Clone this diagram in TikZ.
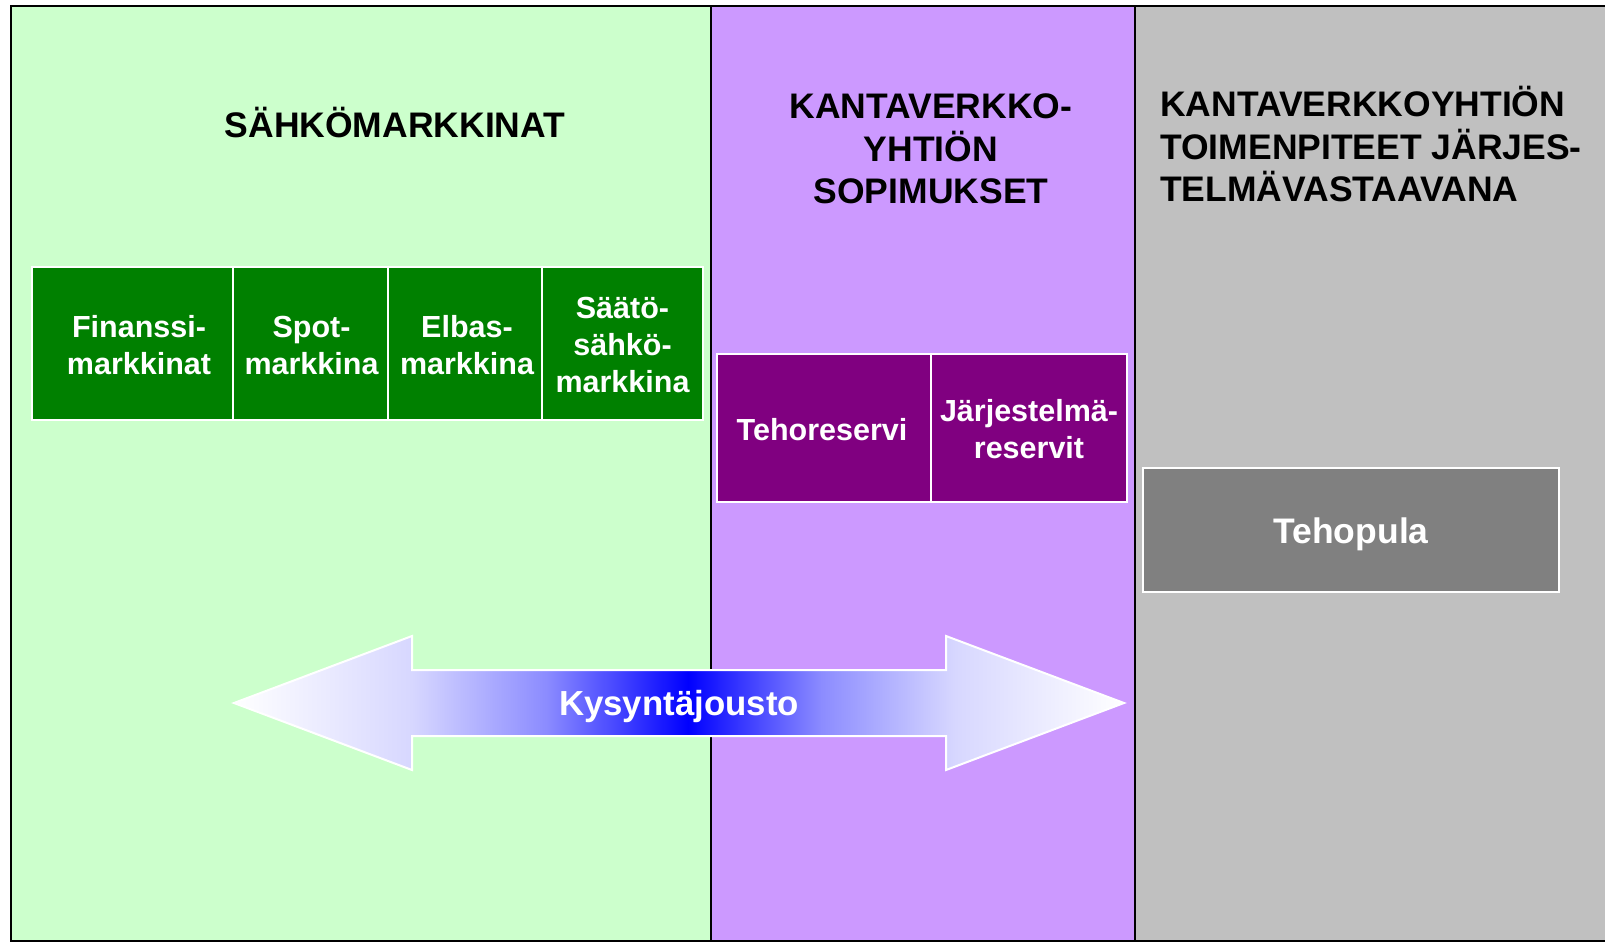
\documentclass[tikz,border=0pt]{standalone}
\usepackage{fontspec}
\setmainfont{Liberation Sans}
\definecolor{lgreen}{HTML}{CCFFCC}
\definecolor{lpurple}{HTML}{CC99FF}
\definecolor{lgray}{HTML}{C0C0C0}
\definecolor{dgreen}{HTML}{008000}
\definecolor{dpurple}{HTML}{800080}
\definecolor{dgray}{HTML}{808080}
\definecolor{kone}{RGB}{215,215,255}
\definecolor{ktwo}{RGB}{140,140,255}
\definecolor{kblue}{RGB}{0,0,255}
\pgfdeclarehorizontalshading{kysshade}{100bp}{color(0bp)=(white); color(25bp)=(white); color(35bp)=(kone); color(42.5bp)=(ktwo); color(50.5bp)=(kblue); color(58bp)=(ktwo); color(65.5bp)=(kone); color(75bp)=(white); color(100bp)=(white)}
\newcommand\vph{\vphantom{Äg}}
\newcommand\vphd{\raisebox{5pt}{\vphantom{Äg}}}
\begin{document}
\begin{tikzpicture}[x=1pt,y=-1pt,
  boxbase/.style={draw=white, line width=1.5pt, text=white, inner sep=0pt, align=center, font=\bfseries\fontsize{30.5}{37}\selectfont},
  gbox/.style={boxbase, fill=dgreen, minimum height=153pt},
  pbox/.style={boxbase, fill=dpurple, minimum height=148pt},
  heading/.style={inner sep=0pt, text=black, font=\bfseries\fontsize{35.5}{42.5}\selectfont}]
\useasboundingbox (0,0) rectangle (1605,942);
% panels
\fill[lgreen] (11,6) rectangle (711,941);
\fill[lpurple] (711,6) rectangle (1135,941);
\fill[lgray] (1135,6) rectangle (1610,941);
\draw[line width=2pt] (11,6) rectangle (1615,941);
\draw[line width=2pt] (711,6) -- (711,941);
\draw[line width=2pt] (1135,6) -- (1135,941);
% headings
\node[heading] (h1) at (395,126) {\vph SÄHKÖMARKKINAT\vph};
\node[heading, align=center] (h2) at (931,150) {\vph KANTAVERKKO-\\YHTIÖN\\SOPIMUKSET\vph};
\node[heading, align=left, anchor=west] (h3) at (1160,148) {\vph KANTAVERKKOYHTIÖN\\TOIMENPITEET JÄRJES-\\TELMÄVASTAAVANA\vph};
% market boxes
\node[gbox, minimum width=201pt] (fin) at (132.5,343.5) {\vphd\hspace*{13pt}Finanssi-\\\hspace*{13pt}markkinat\vph};
\node[gbox, minimum width=155pt] (spot) at (310.5,343.5) {\vphd\hspace*{2pt}Spot-\\\hspace*{2pt}markkina\vph};
\node[gbox, minimum width=154pt] (elbas) at (465,343.5) {\vphd\hspace*{4pt}Elbas-\\\hspace*{4pt}markkina\vph};
\node[gbox, minimum width=161pt] (saato) at (622.5,343.5) {\vphd Säätö-\\sähkö-\\markkina\vph};
% reserve boxes
\node[pbox, minimum width=214pt] (teho) at (824,428) {\vphd\hspace*{-4pt}Tehoreservi\vph};
\node[pbox, minimum width=196pt] (jarj) at (1029,428) {\vphd Järjestelmä-\\reservit\vph};
% power shortage
\node[boxbase, fill=dgray, minimum width=416pt, minimum height=124pt, font=\bfseries\fontsize{35.5}{42}\selectfont] (pula) at (1351,530) {\vphd Tehopula\vph};
% double arrow
\path[draw=white, line width=2pt, line join=miter, shading=kysshade]
  (234,703) -- (412,636) -- (412,670) -- (946,670) -- (946,636) -- (1124,703)
  -- (946,770) -- (946,736) -- (412,736) -- (412,770) -- cycle;
\node[inner sep=0pt, text=white, font=\bfseries\fontsize{34.8}{40}\selectfont] (kys) at (679,704) {\vph Kysyntäjousto\vph};
\end{tikzpicture}
\end{document}
